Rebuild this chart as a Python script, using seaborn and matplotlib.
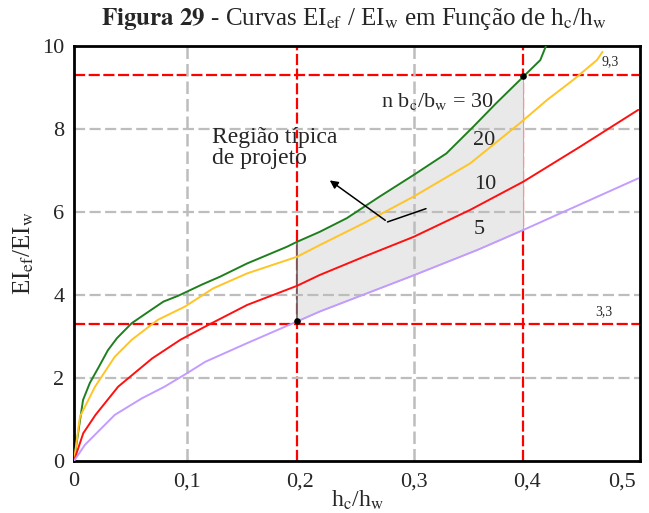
import numpy as np
import pandas as pd
import seaborn as sns
import matplotlib as mpl
import matplotlib.transforms as mtransforms
from matplotlib import pyplot as plt

# curves EI_ef/EI_w x h_c/h_w
hc_30 = [0, 0.008, 0.014, 0.022, 0.030, 0.038, 0.051, 0.066, 0.079, 0.092, 0.113, 0.129, 0.153, 0.188, 0.197,
         0.217, 0.241, 0.270, 0.300, 0.329, 0.353, 0.373, 0.397, 0.412, 0.417]
ei_30 = [0, 1.47, 1.88, 2.27, 2.67, 2.96, 3.32, 3.60, 3.84, 3.98, 4.25, 4.44, 4.76, 5.16, 5.28,
         5.52, 5.85, 6.37, 6.89, 7.41, 8.06, 8.62, 9.26, 9.66, 10.0]

hc_20 = [0, 0.0053, 0.0186, 0.036, 0.051, 0.074, 0.098, 0.123, 0.153, 0.197, 0.217, 0.256, 0.300, 0.350,
         0.394, 0.418, 0.441, 0.462, 0.467]
ei_20 = [0, 1.07, 1.79, 2.51, 2.92, 3.40, 3.72, 4.16, 4.52, 4.92, 5.20, 5.73, 6.37, 7.17,
         8.14, 8.70, 9.18, 9.66, 9.86]

hc_10 = [0, 0.0082, 0.019, 0.039, 0.069, 0.094, 0.116, 0.153, 0.197, 0.217, 0.256, 0.300, 0.350, 0.397,
         0.447, 0.4985]
ei_10 = [0, 0.67, 1.11, 1.79, 2.47, 2.92, 3.24, 3.76, 4.22, 4.48, 4.92, 5.40, 6.05, 6.73,
         7.57, 8.46]

hc_5 = [0, 0.0097, 0.036, 0.060, 0.080, 0.0996, 0.116, 0.153, 0.197, 0.217, 0.297, 0.356, 0.394, 0.4985]
ei_5 = [0, 0.39, 1.11, 1.51, 1.79, 2.11, 2.39, 2.84, 3.36, 3.60, 4.44, 5.08, 5.53, 6.81]

ratios = ['30', '20', '10', '5']
colors = {'30': '#1f7f1f', '20': '#ffc425', '10': '#ff1010', '5': '#c39cff'}

# typical design region
region_hc = [0.197, 0.397]
region_pts = [3.38, 9.28]
ref_ei = [3.3, 9.3]

x_ticks = [0, 0.1, 0.2, 0.3, 0.4, 0.5]
x_labels = ['0', '0,1', '0,2', '0,3', '0,4', '0,5']
y_ticks = [0, 2, 4, 6, 8, 10]

df = pd.concat([
    pd.DataFrame({'hc_hw': x, 'ei': y, 'n': k})
    for k, x, y in zip(ratios, [hc_30, hc_20, hc_10, hc_5], [ei_30, ei_20, ei_10, ei_5])
])

sns.set_style('white')
plt.rcParams['font.family'] = ['Liberation Serif', 'DejaVu Serif']
plt.rcParams['mathtext.fontset'] = 'stix'

fig = plt.figure(figsize=(6.49, 5.13), dpi=100)
ax = fig.add_axes([0.114, 0.1014, 0.872, 0.809])

# grid
for y in [2, 4, 6, 8]:
    ax.axhline(y, color='#bdbdbd', lw=1.6, dashes=(5, 2), zorder=1.6)
for x in [0.1, 0.3]:
    ax.axvline(x, color='#bdbdbd', lw=1.8, dashes=(5, 2), zorder=1.6)
for x in region_hc:
    ax.axvline(x, color='red', lw=1.6, dashes=(5, 1.6), zorder=1.2)
for y in ref_ei:
    ax.axhline(y, color='red', lw=1.6, dashes=(5, 1.6), zorder=1.2)

# shaded region between n=5 and n=30
xs = np.linspace(region_hc[0], region_hc[1], 200)
lo = np.interp(xs, hc_5, ei_5)
hi = np.interp(xs, hc_30, ei_30)
ax.fill_between(xs, lo, hi, color='#e9e9e9', lw=0, zorder=1.4)
ax.vlines(region_hc[0], lo[0], hi[0], color='#666666', lw=1.2, zorder=1.5)
ax.vlines(region_hc[1], lo[-1], hi[-1], color='#c8a8a8', lw=0.8, zorder=1.5)
ax.plot(xs, lo, color='#555555', lw=0.6, zorder=1.5)

sns.lineplot(data=df, x='hc_hw', y='ei', hue='n', palette=colors, estimator=None, sort=False,
             legend=False, lw=1.4, ax=ax, zorder=3)
ax.scatter(region_hc, region_pts, color='black', s=14, zorder=4)

# labels on curves
ax.text(0.321, 8.65, r'n b$_{\rm c}$/b$_{\rm w}$ = 30', fontsize=16, ha='center', va='center')
ax.text(0.362, 7.73, '20', fontsize=16, ha='center', va='center')
ax.text(0.363, 6.65, '10', fontsize=16, ha='center', va='center')
ax.text(0.358, 5.57, '5', fontsize=16, ha='center', va='center')
ax.text(0.474, 9.61, '9,3', fontsize=10, ha='center', va='center')
ax.text(0.468, 3.59, '3,3', fontsize=10, ha='center', va='center')
ax.text(0.122, 7.54, 'Região típica\nde projeto', fontsize=17, ha='left', va='center', linespacing=1.0)

ax.plot([0.311, 0.277], [6.08, 5.76], color='black', lw=1.1, zorder=5)
ax.annotate('', xy=(0.224, 6.80), xytext=(0.277, 5.76),
            arrowprops=dict(arrowstyle='-|>', color='black', lw=1.1, mutation_scale=12), zorder=5)

ax.set_xlim(0, 0.5)
ax.set_ylim(0, 10)
ax.set_xticks(x_ticks)
ax.set_xticklabels(x_labels)
ax.set_yticks(y_ticks)
ax.tick_params(axis='both', length=0, labelsize=16)
ax.tick_params(axis='x', pad=8)
ax.tick_params(axis='y', pad=7)
# last x label sits a bit inside, as in the original
last = ax.get_xticklabels()[-1]
last.set_transform(last.get_transform() + mtransforms.ScaledTranslation(-0.18, 0, fig.dpi_scale_trans))
ax.set_xlabel(r'h$_{\rm c}$/h$_{\rm w}$', fontsize=17, labelpad=-2)
ax.set_ylabel(r'EI$_{\rm ef}$/EI$_{\rm w}$', fontsize=18, labelpad=4)
for s in ax.spines.values():
    s.set_color('black')
    s.set_linewidth(2)
ax.grid(False)

fig.text(0.545, 0.962, r'$\mathbf{Figura\ 29}$ - Curvas EI$_{\rm ef}$ / EI$_{\rm w}$ em Função de h$_{\rm c}$/h$_{\rm w}$',
         fontsize=18, ha='center', va='center')

fig.savefig('out.png', dpi=100)
